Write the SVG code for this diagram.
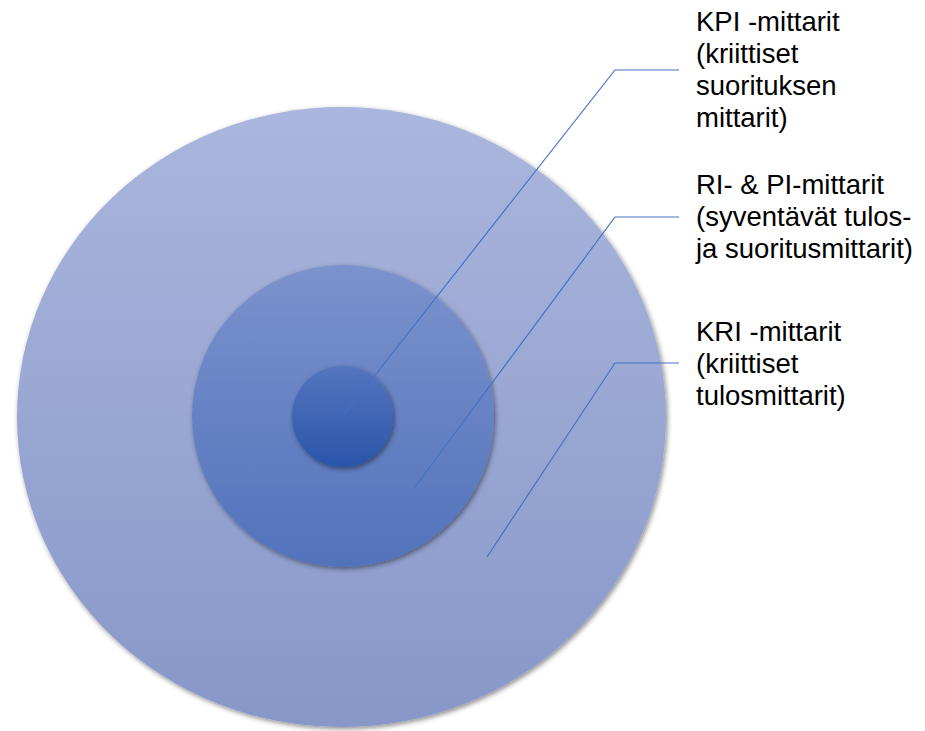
<svg xmlns="http://www.w3.org/2000/svg" width="925" height="731" viewBox="0 0 925 731">
<defs>
<linearGradient id="gOuter" x1="0" y1="0" x2="0" y2="1">
<stop offset="0" stop-color="#AAB6DD"/>
<stop offset="1" stop-color="#8797C8"/>
</linearGradient>
<linearGradient id="gMid" x1="0" y1="0" x2="0" y2="1">
<stop offset="0" stop-color="#7B92CC"/>
<stop offset="1" stop-color="#5272BC"/>
</linearGradient>
<linearGradient id="gInner" x1="0" y1="0" x2="0" y2="1">
<stop offset="0" stop-color="#5575BF"/>
<stop offset="1" stop-color="#2A55A9"/>
</linearGradient>
<filter id="shadow" x="-10%" y="-10%" width="120%" height="120%">
<feDropShadow dx="1.5" dy="2" stdDeviation="2.5" flood-color="#000" flood-opacity="0.45"/>
</filter>
</defs>
<style>
.lbl{font-family:"Liberation Sans",Arial,sans-serif;font-size:27.5px;fill:#000}
.conn{fill:none;stroke:#4472C4;stroke-width:1.2}
</style>
<g id="outer">
<ellipse cx="341.5" cy="417" rx="324.5" ry="310" fill="url(#gOuter)" filter="url(#shadow)"/>
</g>
<g id="middle">
<circle cx="343" cy="416" r="151" fill="url(#gMid)" filter="url(#shadow)"/>
</g>
<g id="inner">
<circle cx="342.5" cy="416.5" r="50.5" fill="url(#gInner)" filter="url(#shadow)"/>
</g>
<g id="connectors">
<polyline class="conn" points="343,416 615,70 679,70"/>
<polyline class="conn" points="415,487 615,217 679,217"/>
<polyline class="conn" points="487,557 615,363 679,363"/>
</g>
<g id="label-kpi">
<text class="lbl" x="696" y="31">KPI -mittarit</text>
<text class="lbl" x="696" y="63">(kriittiset</text>
<text class="lbl" x="696" y="95">suorituksen</text>
<text class="lbl" x="696" y="127">mittarit)</text>
</g>
<g id="label-ri-pi">
<text class="lbl" x="696" y="194">RI- &amp; PI-mittarit</text>
<text class="lbl" x="696" y="226">(syventävät tulos-</text>
<text class="lbl" x="696" y="258">ja suoritusmittarit)</text>
</g>
<g id="label-kri">
<text class="lbl" x="696" y="341">KRI -mittarit</text>
<text class="lbl" x="696" y="373">(kriittiset</text>
<text class="lbl" x="696" y="405">tulosmittarit)</text>
</g>
</svg>
